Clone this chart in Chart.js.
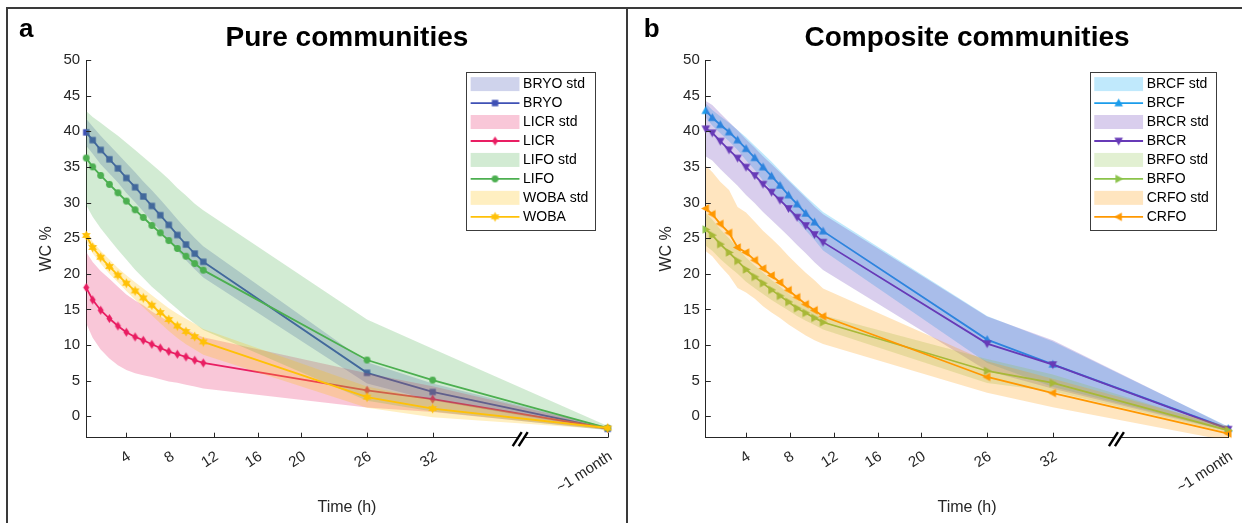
<!DOCTYPE html>
<html>
<head>
<meta charset="utf-8">
<script src="https://cdn.jsdelivr.net/npm/chart.js@4.4.1/dist/chart.umd.min.js"></script>
<style>
  html, body { margin: 0; padding: 0; background: #fff; width: 1242px; height: 523px; overflow: hidden; }
  .ln { position: absolute; background: #3a3a3a; }
  #topline { left: 6px; top: 7px; width: 1236px; height: 2px; }
  #leftline { left: 6px; top: 7px; width: 2px; height: 516px; }
  #midline { left: 626px; top: 7px; width: 2px; height: 516px; }
  #wa { position: absolute; left: 0; top: 0; width: 626px; height: 523px; }
  #wb { position: absolute; left: 628px; top: 0; width: 614px; height: 523px; }
</style>
</head>
<body>
<div class="ln" id="topline"></div>
<div class="ln" id="leftline"></div>
<div class="ln" id="midline"></div>
<canvas id="wa" width="626" height="523"></canvas>
<canvas id="wb" width="614" height="523"></canvas>
<script>
// ---------------- data ----------------
const hours = [0.33, 0.92, 1.65, 2.45, 3.23, 4.0, 4.8, 5.55, 6.33, 7.1, 7.88, 8.66, 9.45, 10.25, 11.03, 26, 32, 48];
const xTickValues = [4, 8, 12, 16, 20, 26, 32, 48];
const xTickLabels = ['4', '8', '12', '16', '20', '26', '32', '~1 month'];
const yTickValues = [0, 5, 10, 15, 20, 25, 30, 35, 40, 45, 50];

// Pure communities
const bryoMean = [39.85, 38.76, 37.38, 36.07, 34.8, 33.45, 32.15, 30.85, 29.52, 28.23, 26.86, 25.45, 24.11, 22.83, 21.68, 6.1, 3.42, -1.75];
const bryoStd  = [1.9, 1.9, 2.0, 2.0, 2.0, 2.1, 2.1, 2.1, 2.2, 2.2, 2.2, 2.2, 2.2, 2.2, 2.2, 1.5, 1.2, 0.2];
const licrMean = [18.07, 16.34, 14.89, 13.72, 12.68, 11.8, 11.14, 10.67, 10.11, 9.59, 9.09, 8.71, 8.34, 7.87, 7.49, 3.65, 2.41, -1.7];
const licrStd  = [5.0, 5.3, 5.5, 5.6, 5.5, 5.3, 5.1, 4.9, 4.6, 4.4, 4.2, 4.0, 3.9, 3.7, 3.6, 2.4, 1.8, 0.2];
const lifoMean = [36.24, 35.01, 33.8, 32.54, 31.37, 30.2, 28.98, 27.9, 26.78, 25.75, 24.67, 23.55, 22.47, 21.44, 20.51, 7.9, 5.08, -1.66];
const lifoStd  = [6.6, 7.0, 7.4, 7.7, 8.0, 8.2, 8.4, 8.5, 8.6, 8.6, 8.6, 8.5, 8.5, 8.4, 8.4, 5.7, 4.4, 0.3];
const wobaMean = [25.38, 23.69, 22.33, 21.02, 19.8, 18.68, 17.6, 16.62, 15.59, 14.56, 13.58, 12.68, 11.9, 11.19, 10.44, 2.69, 1.08, -1.64];
const wobaStd  = [0.8, 0.8, 0.9, 1.0, 1.0, 1.1, 1.2, 1.3, 1.4, 1.5, 1.6, 1.7, 1.8, 1.8, 1.8, 1.5, 1.2, 0.2];

// Composite communities
const brcfMean = [42.88, 41.9, 40.91, 39.89, 38.76, 37.55, 36.28, 34.97, 33.71, 32.4, 31.04, 29.78, 28.47, 27.25, 25.98, 10.77, 7.3, -1.73];
const brcfStd  = [1.0, 1.1, 1.2, 1.3, 1.4, 1.6, 1.7, 1.9, 2.0, 2.1, 2.2, 2.3, 2.4, 2.5, 2.7, 3.3, 3.2, 0.3];
const brcrMean = [40.35, 39.79, 38.62, 37.4, 36.24, 34.97, 33.8, 32.58, 31.46, 30.34, 29.17, 27.95, 26.78, 25.52, 24.44, 10.2, 7.26, -1.8];
const brcrStd  = [3.9, 3.9, 3.9, 3.9, 3.9, 3.9, 3.9, 3.9, 3.9, 3.9, 3.9, 3.9, 3.9, 3.9, 3.9, 3.8, 3.4, 0.3];
const brfoMean = [26.22, 25.42, 24.16, 22.99, 21.81, 20.6, 19.56, 18.68, 17.74, 16.9, 16.05, 15.17, 14.51, 13.81, 13.2, 6.36, 4.68, -1.97];
const brfoStd  = [2.3, 2.2, 2.1, 2.0, 1.8, 1.7, 1.6, 1.5, 1.4, 1.3, 1.2, 1.1, 1.1, 1.0, 1.0, 1.7, 1.2, 0.3];
const crfoMean = [29.17, 28.37, 27.01, 25.75, 23.69, 22.99, 21.91, 20.74, 19.76, 18.78, 17.7, 16.71, 15.73, 14.89, 14.04, 5.52, 3.27, -2.43];
const crfoStd  = [6.0, 5.9, 5.9, 6.0, 5.7, 5.6, 5.4, 5.3, 5.2, 5.0, 4.8, 4.6, 4.4, 4.2, 3.9, 2.2, 2.0, 1.0];

// ---------------- styles ----------------
const FONT = '"Liberation Sans", Arial, Helvetica, sans-serif';
const AX = '#262626';

function makeMarker(shape, color) {
  const c = document.createElement('canvas');
  c.width = 15; c.height = 15;
  const g = c.getContext('2d');
  g.fillStyle = color;
  const cx = 7.5, cy = 7.5;
  g.beginPath();
  if (shape === 'square') {
    g.rect(cx - 3.2, cy - 3.2, 6.4, 6.4);
  } else if (shape === 'diamond') {
    g.moveTo(cx, cy - 4.6); g.lineTo(cx + 3.0, cy); g.lineTo(cx, cy + 4.6); g.lineTo(cx - 3.0, cy);
  } else if (shape === 'circle') {
    g.arc(cx, cy, 3.4, 0, Math.PI * 2);
  } else if (shape === 'hexagram') {
    for (let k = 0; k < 12; k++) {
      const r = (k % 2) ? 2.7 : 5.0;
      const a = -Math.PI / 2 + k * Math.PI / 6;
      const px = cx + r * Math.cos(a), py = cy + r * Math.sin(a);
      if (k === 0) g.moveTo(px, py); else g.lineTo(px, py);
    }
  } else if (shape === 'up') {
    g.moveTo(cx, cy - 4.6); g.lineTo(cx + 4.3, cy + 3.2); g.lineTo(cx - 4.3, cy + 3.2);
  } else if (shape === 'down') {
    g.moveTo(cx, cy + 4.6); g.lineTo(cx + 4.3, cy - 3.2); g.lineTo(cx - 4.3, cy - 3.2);
  } else if (shape === 'right') {
    g.moveTo(cx + 4.6, cy); g.lineTo(cx - 3.2, cy - 4.3); g.lineTo(cx - 3.2, cy + 4.3);
  } else if (shape === 'left') {
    g.moveTo(cx - 4.6, cy); g.lineTo(cx + 3.2, cy - 4.3); g.lineTo(cx + 3.2, cy + 4.3);
  }
  g.closePath();
  g.fill();
  return c;
}

const pureSeries = [
  { name: 'BRYO', mean: bryoMean, std: bryoStd, line: '#3F51B5', rgb: '63,81,181', marker: 'square' },
  { name: 'LICR', mean: licrMean, std: licrStd, line: '#E91E63', rgb: '233,30,99', marker: 'diamond' },
  { name: 'LIFO', mean: lifoMean, std: lifoStd, line: '#4CAF50', rgb: '76,175,80', marker: 'circle' },
  { name: 'WOBA', mean: wobaMean, std: wobaStd, line: '#FFC107', rgb: '255,193,7', marker: 'hexagram' }
];
const compSeries = [
  { name: 'BRCF', mean: brcfMean, std: brcfStd, line: '#1A9CEB', rgb: '3,169,244', marker: 'up' },
  { name: 'BRCR', mean: brcrMean, std: brcrStd, line: '#673AB7', rgb: '103,58,183', marker: 'down' },
  { name: 'BRFO', mean: brfoMean, std: brfoStd, line: '#8BC34A', rgb: '139,195,74', marker: 'right' },
  { name: 'CRFO', mean: crfoMean, std: crfoStd, line: '#FF9800', rgb: '255,152,0', marker: 'left' }
];

function buildDatasets(series) {
  const ds = [];
  series.forEach(s => {
    s.markerCanvas = makeMarker(s.marker, s.line);
    ds.push({
      label: s.name + ' std',
      data: hours.map((h, i) => ({ x: h, y: s.mean[i] + s.std[i] })),
      borderWidth: 0, borderColor: 'rgba(0,0,0,0)', pointRadius: 0,
      backgroundColor: 'rgba(' + s.rgb + ',0.25)', fill: '+1', tension: 0
    });
    ds.push({
      label: s.name + ' std lower',
      data: hours.map((h, i) => ({ x: h, y: s.mean[i] - s.std[i] })),
      borderWidth: 0, borderColor: 'rgba(0,0,0,0)', pointRadius: 0, fill: false, tension: 0
    });
    ds.push({
      label: s.name,
      data: hours.map((h, i) => ({ x: h, y: s.mean[i] })),
      borderColor: s.line, backgroundColor: s.line, borderWidth: 1.8,
      pointStyle: s.markerCanvas, pointRadius: 4, fill: false, tension: 0, clip: false
    });
  });
  ds.forEach((d, i) => { d.order = 1000 - i; });
  return ds;
}

const decor = {
  id: 'decor',
  afterDraw(chart, args, o) {
    const { ctx, chartArea: ca, scales: { x, y } } = chart;
    ctx.save();
    // inward ticks
    ctx.strokeStyle = AX; ctx.lineWidth = 1;
    x.ticks.forEach(t => {
      const px = Math.round(x.getPixelForValue(t.value)) + 0.5;
      ctx.beginPath(); ctx.moveTo(px, ca.bottom); ctx.lineTo(px, ca.bottom - 5); ctx.stroke();
    });
    y.ticks.forEach(t => {
      const py = Math.round(y.getPixelForValue(t.value)) + 0.5;
      ctx.beginPath(); ctx.moveTo(ca.left, py); ctx.lineTo(ca.left + 5, py); ctx.stroke();
    });
    // axis break mark
    const bx = x.getPixelForValue(o.breakAt), by = ca.bottom + 1.5;
    ctx.fillStyle = '#fff';
    ctx.beginPath();
    ctx.moveTo(bx - 3 - 4.5, by + 7); ctx.lineTo(bx - 3 + 4.5, by - 7);
    ctx.lineTo(bx + 3 + 4.5, by - 7); ctx.lineTo(bx + 3 - 4.5, by + 7); ctx.closePath(); ctx.fill();
    ctx.strokeStyle = '#000'; ctx.lineWidth = 2.4;
    [-3, 3].forEach(d => {
      ctx.beginPath(); ctx.moveTo(bx + d - 4.5, by + 7); ctx.lineTo(bx + d + 4.5, by - 7); ctx.stroke();
    });
    // legend
    ctx.font = '14px ' + FONT;
    const entries = [];
    o.series.forEach(s => {
      entries.push({ kind: 'band', label: s.name + ' std', fill: 'rgba(' + s.rgb + ',0.25)' });
      entries.push({ kind: 'line', label: s.name, color: s.line, marker: s.markerCanvas });
    });
    const maxW = Math.max(...entries.map(e => ctx.measureText(e.label).width));
    const textOff = 57, rowH = 18.96;
    const w = textOff + maxW + 6.5, h = 157.6;
    const left = ca.right - 12.8 - w, top = ca.top + 11.8;
    ctx.fillStyle = '#fff'; ctx.fillRect(left, top, w, h);
    ctx.strokeStyle = '#3c3c3c'; ctx.lineWidth = 1;
    ctx.strokeRect(Math.round(left) + 0.5, Math.round(top) + 0.5, Math.round(w), Math.round(h));
    entries.forEach((e, i) => {
      const cy = top + 12.3 + i * rowH;
      const sx0 = left + 4.6, sx1 = left + 53.4;
      if (e.kind === 'band') {
        ctx.fillStyle = e.fill; ctx.fillRect(sx0, cy - 7, sx1 - sx0, 14);
      } else {
        ctx.strokeStyle = e.color; ctx.lineWidth = 1.8;
        ctx.beginPath(); ctx.moveTo(sx0, cy); ctx.lineTo(sx1, cy); ctx.stroke();
        ctx.drawImage(e.marker, (sx0 + sx1) / 2 - 7.5, cy - 7.5);
      }
      ctx.fillStyle = '#000'; ctx.textBaseline = 'middle'; ctx.textAlign = 'left';
      ctx.fillText(e.label, left + textOff, cy + 0.5);
    });
    // panel letter
    ctx.font = 'bold 26px ' + FONT;
    ctx.fillStyle = '#000'; ctx.textBaseline = 'alphabetic'; ctx.textAlign = 'left';
    ctx.fillText(o.letter, o.letterX, 37);
    ctx.restore();
  }
};

function makeChart(id, series, title, pad, yW, breakAt, letter, letterX) {
  return new Chart(document.getElementById(id), {
    type: 'line',
    data: { datasets: buildDatasets(series) },
    plugins: [decor],
    options: {
      responsive: false, animation: false, devicePixelRatio: 1, events: [],
      layout: { padding: pad },
      plugins: {
        legend: { display: false },
        tooltip: { enabled: false },
        title: {
          display: true, text: title, fullSize: false, color: '#000',
          font: { family: FONT, size: 28, weight: 'bold' },
          padding: { top: 21.2, bottom: 5.2 }
        },
        decor: { series: series, breakAt: breakAt, letter: letter, letterX: letterX }
      },
      scales: {
        x: {
          type: 'linear', min: 0.33, max: 48,
          afterBuildTicks: s => { s.ticks = xTickValues.map(v => ({ value: v })); },
          afterFit: s => { s.height = 83.9; s.paddingLeft = 0; s.paddingRight = 0; },
          grid: { drawOnChartArea: false, drawTicks: false },
          border: { display: true, color: AX, width: 1 },
          ticks: {
            autoSkip: false, minRotation: 33, maxRotation: 33, padding: 10, labelOffset: 3, color: AX,
            font: { family: FONT, size: 15 },
            callback: (v, i) => xTickLabels[i]
          },
          title: { display: true, text: 'Time (h)', color: AX, font: { family: FONT, size: 16 }, padding: { top: 4, bottom: 4 } }
        },
        y: {
          type: 'linear', min: -3, max: 50,
          afterBuildTicks: s => { s.ticks = yTickValues.map(v => ({ value: v })); },
          afterFit: s => { s.width = yW; s.paddingTop = 0; s.paddingBottom = 0; },
          grid: { drawOnChartArea: false, drawTicks: false },
          border: { display: true, color: AX, width: 1 },
          ticks: { padding: 6, color: AX, font: { family: FONT, size: 15 } },
          title: { display: true, text: 'WC %', color: AX, font: { family: FONT, size: 16 }, padding: { top: 4, bottom: 4 } }
        }
      }
    }
  });
}

makeChart('wa', pureSeries, 'Pure communities', { left: 33.4, right: 18.3, top: 0, bottom: 1.4 }, 52.8, 40, 'a', 19);
makeChart('wb', compSeries, 'Composite communities', { left: 24.7, right: 13.8, top: 0, bottom: 1.4 }, 53.1, 37.8, 'b', 15.7);
</script>
</body>
</html>
